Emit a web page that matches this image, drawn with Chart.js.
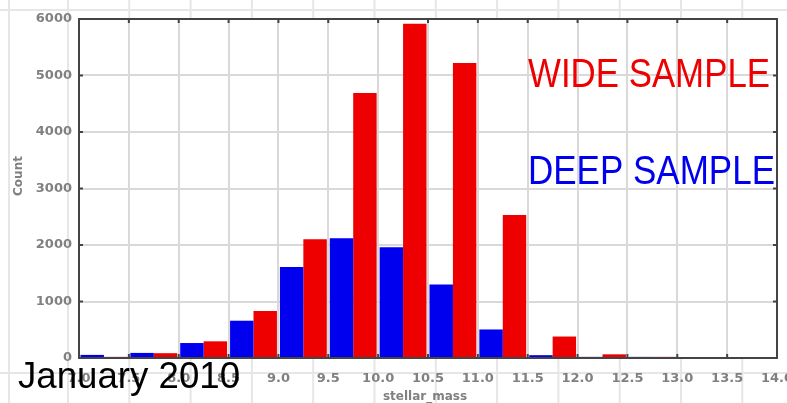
<!DOCTYPE html>
<html>
<head>
<meta charset="utf-8">
<script src="https://cdn.jsdelivr.net/npm/chart.js@4.4.1/dist/chart.umd.min.js"></script>
<style>
  html, body { margin: 0; padding: 0; background: #fff; }
  #wrap { width: 787px; height: 403px; position: relative; }
</style>
</head>
<body>
<div id="wrap"><canvas id="histChart"></canvas></div>
<script>
// Stellar mass histogram, two samples, 0.5 dex bins from 7.0 to 14.0
const binLabels = ['7.0-7.5', '7.5-8.0', '8.0-8.5', '8.5-9.0', '9.0-9.5', '9.5-10.0', '10.0-10.5',
    '10.5-11.0', '11.0-11.5', '11.5-12.0', '12.0-12.5', '12.5-13.0', '13.0-13.5', '13.5-14.0'];
const deepCounts = [55, 90, 265, 660, 1610, 2120, 1960, 1300, 505, 50, 20, 20, 0, 0];
const wideCounts = [20, 85, 295, 830, 2100, 4690, 5915, 5220, 2530, 380, 65, 20, 15, 0];
const yTicks = [0, 1000, 2000, 3000, 4000, 5000, 6000];
const xMin = 7.0, xMax = 14.0, xStep = 0.5;

const BLUE = '#0000ee';
const RED = '#ee0000';
const GRID = '#d9d9d9';
const FRAME = '#444';
const LABEL = '#808080';

// Faint spreadsheet lines behind the picture, then white plot area
const backdrop = {
    id: 'backdrop',
    beforeDraw(chart) {
        const { ctx, chartArea: a } = chart;
        ctx.save();
        ctx.fillStyle = '#fff';
        ctx.fillRect(0, 0, chart.width, chart.height);
        ctx.strokeStyle = '#e6e6e6';
        ctx.lineWidth = 2;
        ctx.beginPath();
        for (let x = 68; x < chart.width; x += 61.3) {
            ctx.moveTo(x, 0); ctx.lineTo(x, chart.height);
        }
        ctx.moveTo(9, 0); ctx.lineTo(9, chart.height);
        ctx.moveTo(0, 10); ctx.lineTo(chart.width, 10);
        ctx.moveTo(0, 373); ctx.lineTo(chart.width, 373);
        ctx.stroke();
        ctx.fillStyle = '#fff';
        ctx.fillRect(a.left, a.top, a.right - a.left, a.bottom - a.top);
        ctx.restore();
    }
};

// Frame, inner tick marks and the overlaid texts
const overlay = {
    id: 'overlay',
    afterDraw(chart) {
        const { ctx, chartArea: a } = chart;
        const xs = chart.scales.xt, ys = chart.scales.y;
        ctx.save();
        ctx.strokeStyle = FRAME;
        ctx.lineWidth = 2;
        ctx.strokeRect(a.left, a.top, a.right - a.left, a.bottom - a.top);
        ctx.beginPath();
        xs.ticks.forEach(t => {
            const px = xs.getPixelForValue(t.value);
            ctx.moveTo(px, a.top); ctx.lineTo(px, a.top + 4);
            ctx.moveTo(px, a.bottom); ctx.lineTo(px, a.bottom - 4);
        });
        ys.ticks.forEach(t => {
            const py = ys.getPixelForValue(t.value);
            ctx.moveTo(a.left, py); ctx.lineTo(a.left + 4, py);
            ctx.moveTo(a.right, py); ctx.lineTo(a.right - 4, py);
        });
        ctx.stroke();

        // axis names
        ctx.fillStyle = LABEL;
        ctx.font = 'bold 12px "DejaVu Sans"';
        ctx.textAlign = 'center';
        ctx.textBaseline = 'middle';
        ctx.fillText('stellar_mass', (a.left + a.right) / 2 - 3, 397);
        ctx.save();
        ctx.translate(19, 176);
        ctx.rotate(-Math.PI / 2);
        ctx.fillText('Count', 0, 0);
        ctx.restore();

        // sample labels, fitted to their width in the picture
        function fitText(txt, color, x, y, w, size) {
            ctx.save();
            ctx.font = size + 'px "Liberation Sans"';
            ctx.fillStyle = color;
            ctx.textAlign = 'left';
            ctx.textBaseline = 'alphabetic';
            const m = ctx.measureText(txt).width;
            ctx.translate(x, y);
            ctx.scale(w / m, 1);
            ctx.fillText(txt, 0, 0);
            ctx.restore();
        }
        fitText('WIDE SAMPLE', RED, 528, 87, 242, 41);
        fitText('DEEP SAMPLE', BLUE, 528, 184, 247, 41);
        fitText('January 2010', '#000', 18, 388, 222, 36);
        ctx.restore();
    }
};

const ctx = document.getElementById('histChart').getContext('2d');
new Chart(ctx, {
    type: 'bar',
    data: {
        labels: binLabels,
        datasets: [
            { label: 'DEEP SAMPLE', data: deepCounts, backgroundColor: BLUE, borderWidth: 0 },
            { label: 'WIDE SAMPLE', data: wideCounts, backgroundColor: RED, borderWidth: 0 }
        ]
    },
    options: {
        responsive: true,
        maintainAspectRatio: false,
        animation: false,
        layout: { padding: { left: 0, right: 10, top: 19, bottom: 0 } },
        datasets: { bar: { barPercentage: 1.0, categoryPercentage: 0.94 } },
        plugins: {
            legend: { display: false },
            tooltip: { enabled: false }
        },
        scales: {
            x: {
                display: false,
                offset: true
            },
            xt: {
                type: 'linear',
                position: 'bottom',
                min: xMin,
                max: xMax,
                offset: false,
                afterFit: s => {
                    s.height = 45;
                    // let the last label run past the edge, as in the picture
                    s.paddingLeft = 0;
                    s.paddingRight = 0;
                },
                afterBuildTicks: s => {
                    const t = [];
                    for (let v = xMin; v <= xMax + 1e-9; v += xStep) t.push({ value: +v.toFixed(1) });
                    s.ticks = t;
                },
                ticks: {
                    color: LABEL,
                    font: { family: 'DejaVu Sans', size: 13, weight: 'bold' },
                    padding: 13,
                    maxRotation: 0,
                    autoSkip: false,
                    callback: v => v.toFixed(1)
                },
                grid: { color: GRID, lineWidth: 2, drawTicks: false, offset: false },
                border: { display: false }
            },
            y: {
                min: 0,
                max: 6000,
                afterFit: s => { s.width = 79; },
                afterBuildTicks: s => { s.ticks = yTicks.map(v => ({ value: v })); },
                ticks: {
                    color: LABEL,
                    font: { family: 'DejaVu Sans', size: 13, weight: 'bold' },
                    padding: 7,
                    callback: v => String(v)
                },
                grid: { color: GRID, lineWidth: 2, drawTicks: false },
                border: { display: false }
            }
        }
    },
    plugins: [backdrop, overlay]
});
</script>
</body>
</html>
